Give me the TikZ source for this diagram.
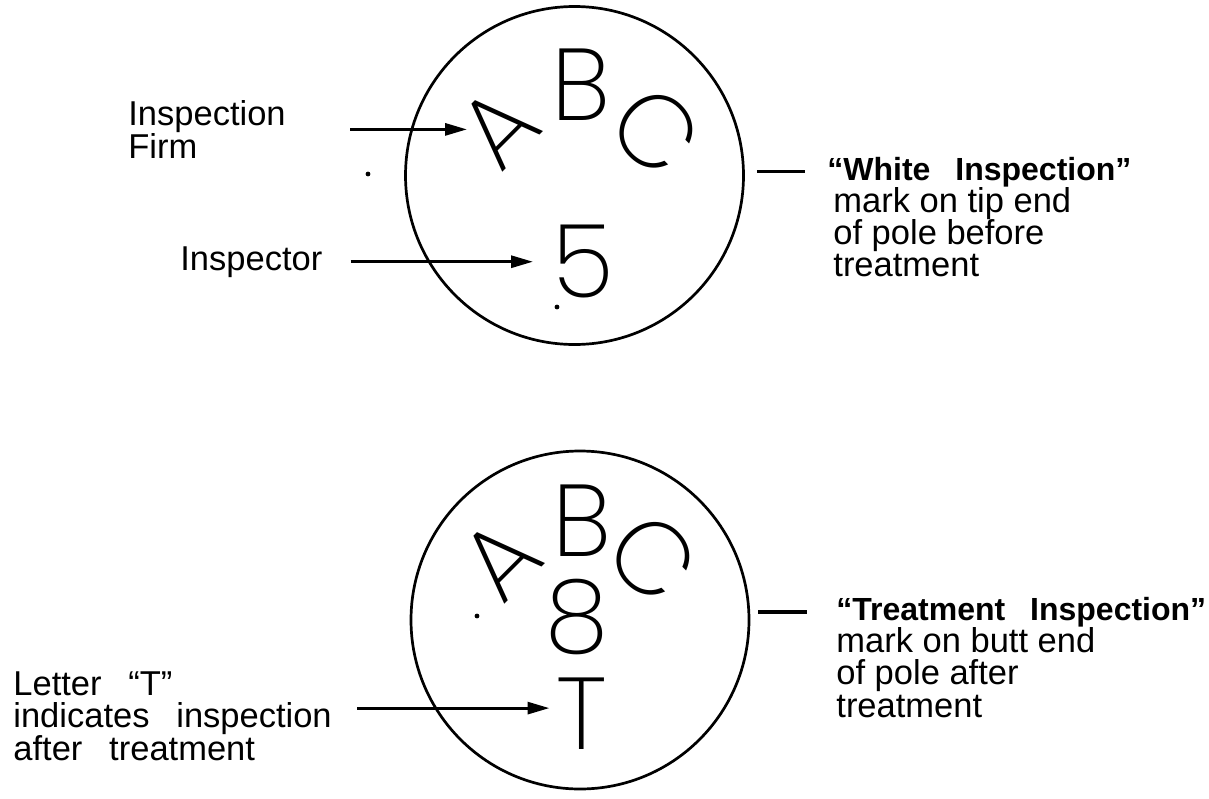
\documentclass[tikz,border=0pt]{standalone}
\usepackage{fontspec}
\setmainfont{Liberation Sans}
\newfontfamily\stampfont{Poppins ExtraLight}
\usetikzlibrary{arrows.meta}

\begin{document}
\begin{tikzpicture}[
    x=0.5pt, y=-0.5pt,
    ring/.style={circle, draw, line width=1.35pt, minimum size=169pt, inner sep=0pt},
    stamp/.style={inner sep=0pt, font=\stampfont\fontsize{51}{51}\selectfont},
    lbl/.style={inner sep=0pt, anchor=base west, align=left, font=\fontsize{17.25}{16.1}\selectfont},
    arr/.style={-{Triangle[length=11pt, width=6pt]}, line width=1.5pt},
    tick/.style={line width=1.6pt}
  ]
  \useasboundingbox (0,0) rectangle (1209,798);

  % tip end mark
  \node[ring] (tip) at (574.5,175.5) {};
  \node[stamp, rotate=45] (tipA) at (498,127) {A};
  \node[stamp] (tipB) at (581.5,84.5) {B};
  \node[stamp, rotate=-45] (tipC) at (656,131) {C};
  \node[stamp] (tip5) at (583,261) {5};

  % butt end mark
  \node[ring] (butt) at (580,620) {};
  \node[stamp, rotate=45] (buttA) at (500.5,559) {A};
  \node[stamp] (buttB) at (582,521) {B};
  \node[stamp, rotate=-45] (buttC) at (653,558) {C};
  \node[stamp] (butt8) at (576.5,616.5) {8};
  \node[stamp] (buttT) at (581.5,713.5) {T};

  % labels (base = last line)
  \node[lbl] (firm) at (128,158) {Inspection\\Firm};
  \node[lbl] (insp) at (180,270) {Inspector};
  \node[lbl] (note) at (13,760) {Letter\enspace\ “T”\\indicates\enspace\ inspection\\after\enspace\ treatment};
  \node[lbl] (white) at (827,276.7) {{\fontsize{16}{16}\bfseries “White\enspace\ Inspection”}\\\hspace{3pt}mark on tip end\\\hspace{3pt}of pole before\\\hspace{3pt}treatment};
  \node[lbl] (treat) at (836,717) {{\fontsize{16}{16}\bfseries “Treatment\enspace\ Inspection”}\\mark on butt end\\of pole after\\treatment};

  % arrows
  \draw[arr] ([xshift=32pt]firm.east) coordinate (ftail) -- ([xshift=-15.5pt]tipA.center |- ftail);
  \draw[arr] ([xshift=14pt]insp.east) coordinate (itail) -- ([xshift=-25pt]tip5.center |- itail);
  \draw[arr] ([shift={(12.5pt,4pt)}]note.east) coordinate (ttail) -- ([xshift=-16pt]buttT.center |- ttail);

  % leader dashes
  \draw[tick] ([shift={(6pt,2pt)}]tip.east) -- ++(24pt,0);
  \draw[tick] ([shift={(4pt,4pt)}]butt.east) -- ++(24.5pt,0);

  % specks
  \fill (368,174) circle (1.2pt);
  \fill (557,307) circle (1.2pt);
  \fill (477,616) circle (1.2pt);
\end{tikzpicture}
\end{document}
